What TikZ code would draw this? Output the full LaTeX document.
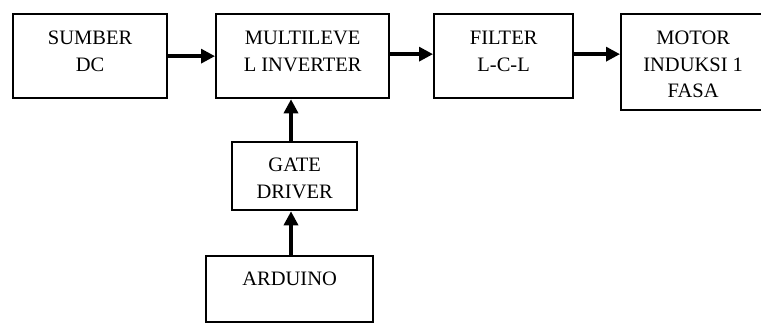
\documentclass[tikz,border=0pt]{standalone}
\usepackage{fontspec}
\setmainfont{Liberation Serif}
\usetikzlibrary{arrows.meta}
\begin{document}
\begin{tikzpicture}[x=1pt,y=-1pt,
  blk/.style={draw,line width=2.3pt,inner sep=0pt,anchor=north west},
  lbl/.style={anchor=base,align=center,font=\fontsize{20.5}{26.5}\selectfont,inner sep=0pt},
  arr/.style={line width=3.3pt,-{Triangle[length=14pt,width=14pt]}}]
\useasboundingbox (0,0) rectangle (761,323);
\node[blk,minimum width=154pt,minimum height=84pt] (sumber) at (12,13) {};
\node[blk,minimum width=173pt,minimum height=84pt] (multi) at (215,13) {};
\node[blk,minimum width=139pt,minimum height=84pt] (filter) at (433,13) {};
\node[blk,minimum width=144pt,minimum height=96pt] (motor) at (620,13) {};
\node[blk,minimum width=125pt,minimum height=68pt] (gate) at (231,141) {};
\node[blk,minimum width=167pt,minimum height=66pt] (arduino) at (205,255) {};
\node[lbl] (tsumber) at ([yshift=-58.5pt]sumber.north) {SUMBER\\DC};
\node[lbl] (tmulti) at ([yshift=-58.5pt]multi.north) {MULTILEVE\\L INVERTER};
\node[lbl] (tfilter) at ([yshift=-58.5pt]filter.north) {FILTER\\L-C-L};
\node[lbl] (tmotor) at ([yshift=-85pt]motor.north) {MOTOR\\INDUKSI 1\\FASA};
\node[lbl] (tgate) at ([yshift=-57.5pt]gate.north) {GATE\\DRIVER};
\node[lbl] (tarduino) at ([yshift=-31pt]arduino.north) {ARDUINO};
\coordinate (vx) at (291,0);
\draw[arr] (sumber.east) -- (multi.west);
\draw[arr] ([yshift=2pt]multi.east) -- ([yshift=2pt]multi.east -| filter.west);
\draw[arr] ([yshift=2pt]filter.east) -- ([yshift=2pt]filter.east -| motor.west);
\draw[arr] (vx |- gate.north) -- (vx |- multi.south);
\draw[arr] (vx |- arduino.north) -- (vx |- gate.south);
\end{tikzpicture}
\end{document}
